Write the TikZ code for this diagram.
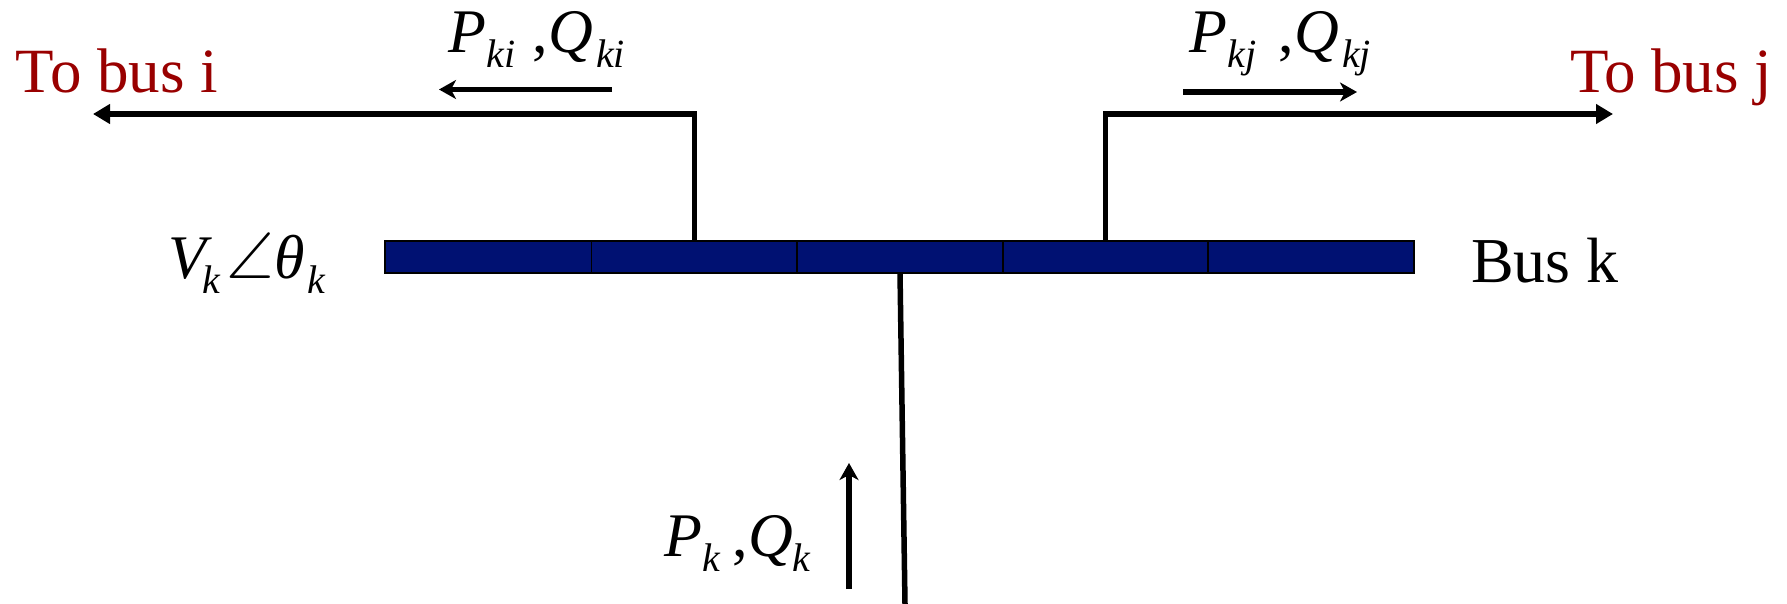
\documentclass[tikz,border=0pt]{standalone}
\usepackage{amssymb}
\usepackage{fontspec}
\setmainfont{Liberation Serif}
\usetikzlibrary{arrows.meta}
\definecolor{busblue}{HTML}{001172}
\definecolor{labelred}{HTML}{990000}
\newcommand{\bigtxt}{\fontsize{62}{62}\selectfont}
\newcommand{\subtxt}[1]{\raisebox{-15pt}{\fontsize{40}{40}\selectfont\itshape #1}}
\tikzset{
  x=1pt,y=-1pt,
  seg/.style={draw=black,line width=1.5pt,fill=busblue,minimum height=32pt,inner sep=0pt,outer sep=0pt,anchor=west},
  wire/.style={line width=5.5pt,draw=black,line join=miter},
  wiretip/.style={wire,-{Triangle[length=17pt,width=19pt]}},
  flowtip/.style={line width=5.5pt,draw=black,-{Stealth[length=17pt,width=19pt,inset=5pt]}},
  lbl/.style={anchor=base west,inner sep=0pt,outer sep=0pt,font=\bigtxt},
  redlbl/.style={lbl,text=labelred,font=\fontsize{63}{63}\selectfont}
}
\begin{document}
\begin{tikzpicture}
\useasboundingbox (0,0) rectangle (1787,604);
\fill[white] (0,0) rectangle (1787,604);
% bus
\node[seg,minimum width=206.5pt] (s1) at (385,257) {};
\node[seg,minimum width=205.5pt] (s2) at (591.5,257) {};
\node[seg,minimum width=206pt] (s3) at (797,257) {};
\node[seg,minimum width=205pt] (s4) at (1003,257) {};
\node[seg,minimum width=206pt] (s5) at (1208,257) {};
% free ends
\coordinate (endi) at (93,114);
\coordinate (endj) at (1613,114);
\coordinate (endk) at (905,604);
\coordinate (fia) at (612,89.5);
\coordinate (fib) at (439,89.5);
\coordinate (fja) at (1183,92);
\coordinate (fjb) at (1357,92);
\coordinate (fka) at (849,589);
\coordinate (fkb) at (849,463);
% connectors
\draw[wiretip] (s2.north) |- (endi);
\draw[wiretip] (s4.north) |- (endj);
\draw[wire] (s3.south) -- (endk);
\draw[flowtip] (fia) -- (fib);
\draw[flowtip] (fja) -- (fjb);
\draw[flowtip] (fka) -- (fkb);
% labels
\node[redlbl] (toi) at (16,93) {To bus i};
\node[redlbl] (toj) at (1570,93) {To bus j};
\node[lbl,font=\fontsize{64}{64}\selectfont] (busk) at (1471,282) {Bus k};
\node[lbl] (pki) at (448,53) {\itshape P\hspace{1pt}\subtxt{ki}\hspace{17pt}\upshape,\itshape\hspace{0pt}Q\hspace{3pt}\subtxt{ki}};
\node[lbl] (pkj) at (1189,53) {\itshape P\hspace{1pt}\subtxt{kj}\hspace{22pt}\upshape,\itshape\hspace{0pt}Q\hspace{3pt}\subtxt{kj}};
\node[lbl] (pk) at (664,556) {\itshape P\hspace{1pt}\subtxt{k}\hspace{12pt}\upshape,\itshape\hspace{0pt}Q\hspace{0pt}\subtxt{k}};
\node[lbl] (vk) at (168,278) {\itshape V\hspace{-3pt}\subtxt{k}\hspace{6pt}{\fontsize{66}{66}\selectfont$\angle$}\hspace{0pt}θ\hspace{3pt}\subtxt{k}};
\end{tikzpicture}
\end{document}
